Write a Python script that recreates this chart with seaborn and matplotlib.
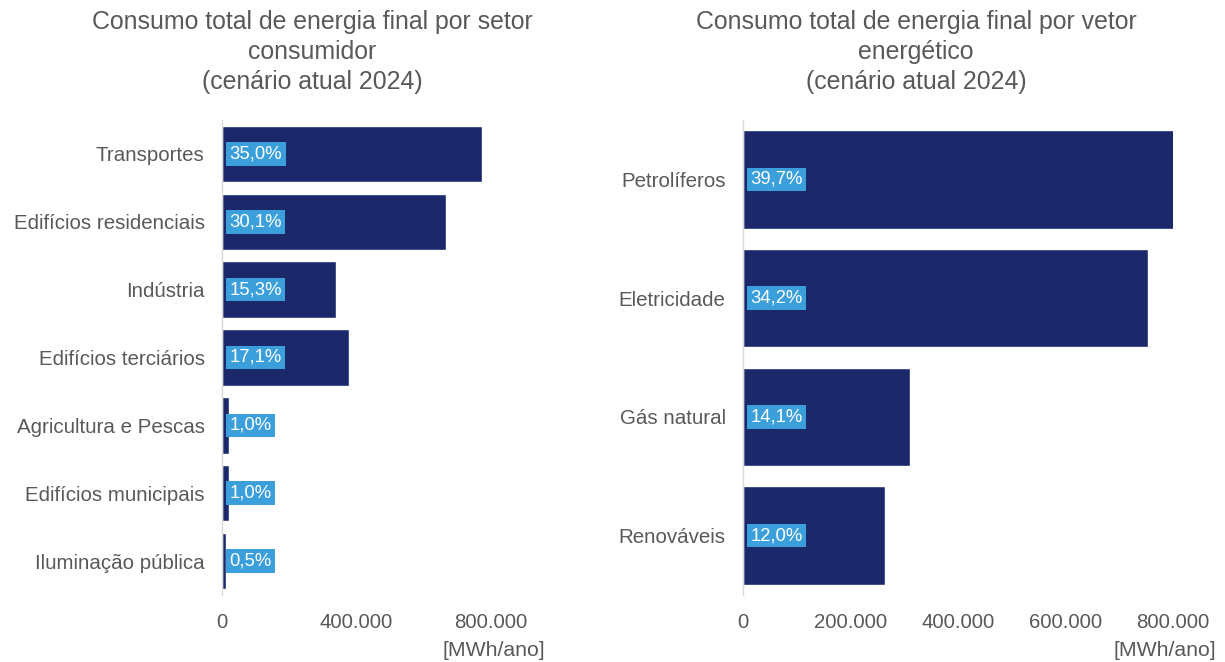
import matplotlib
matplotlib.use("Agg")
import matplotlib.pyplot as plt
import seaborn as sns
import pandas as pd
from matplotlib.ticker import FuncFormatter

sns.set_theme(style="white")
plt.rcParams['font.family'] = ['Liberation Sans', 'DejaVu Sans']

# Left panel: sector data
setores = ["Transportes", "Edifícios residenciais", "Indústria", "Edifícios terciários",
           "Agricultura e Pescas", "Edifícios municipais", "Iluminação pública"]
setores_valores = [776000, 667000, 339000, 379000, 22000, 22000, 11000]
setores_pct = ["35,0%", "30,1%", "15,3%", "17,1%", "1,0%", "1,0%", "0,5%"]

# Right panel: energy carrier data
vetores = ["Petrolíferos", "Eletricidade", "Gás natural", "Renováveis"]
vetores_valores = [875000, 753000, 311000, 264000]
vetores_pct = ["39,7%", "34,2%", "14,1%", "12,0%"]

titulo_esq = "Consumo total de energia final por setor\nconsumidor\n(cenário atual 2024)"
titulo_dir = "Consumo total de energia final por vetor\nenergético\n(cenário atual 2024)"
unidade = "[MWh/ano]"

NAVY = "#1B2869"
LIGHT = "#3A9FDA"
GREY = "#595959"

W, H = 1225, 662
fig = plt.figure(figsize=(W / 100, H / 100), dpi=100)

def axes_px(x0, x1, y0, y1):
    return fig.add_axes([x0 / W, 1 - y1 / H, (x1 - x0) / W, (y1 - y0) / H])

ax1 = axes_px(222, 544, 120, 595)
ax2 = axes_px(743, 1173, 120, 595)

fmt = FuncFormatter(lambda v, p: "0" if v == 0 else f"{int(v):,}".replace(",", "."))

def draw(ax, cats, vals, pcts, xmax, ticks, title, tcx):
    df = pd.DataFrame({"cat": cats, "val": vals})
    sns.barplot(data=df, y="cat", x="val", orient="h", color=NAVY, width=0.83,
                saturation=1, ax=ax, order=cats)
    ax.set_xlim(0, xmax)
    ax.set_ylim(len(cats) - 0.5, -0.5)
    ax.set_xticks(ticks)
    ax.xaxis.set_major_formatter(fmt)
    ax.set_xlabel("")
    ax.set_ylabel("")
    for s in ["top", "right", "bottom"]:
        ax.spines[s].set_visible(False)
    ax.spines["left"].set_color("#D9D9D9")
    ax.spines["left"].set_linewidth(1)
    ax.tick_params(axis="x", length=0, labelsize=14.7, labelcolor=GREY, pad=13)
    ax.tick_params(axis="y", length=0, labelsize=14.8, labelcolor=GREY, pad=12.5)
    for i, p in enumerate(pcts):
        ax.annotate(p, xy=(0, i), xytext=(5.5, 0), textcoords="offset points",
                    ha="left", va="center", color="white", fontsize=13.3,
                    bbox=dict(boxstyle="square,pad=0.18", fc=LIGHT, ec="none"))
    fig.text(tcx / W, 1 - 10 / H, title, ha="center", va="top", fontsize=17.9,
             color=GREY, linespacing=1.32)

draw(ax1, setores, setores_valores, setores_pct, 960000, [0, 400000, 800000], titulo_esq, 312)
draw(ax2, vetores, vetores_valores, vetores_pct, 800000,
     [0, 200000, 400000, 600000, 800000], titulo_dir, 916)

fig.text(545 / W, 1 - 651 / H, unidade, ha="right", va="center", fontsize=15.3, color=GREY)
fig.text(1216 / W, 1 - 651 / H, unidade, ha="right", va="center", fontsize=15.3, color=GREY)

fig.savefig("out.png", dpi=100, facecolor="white")
